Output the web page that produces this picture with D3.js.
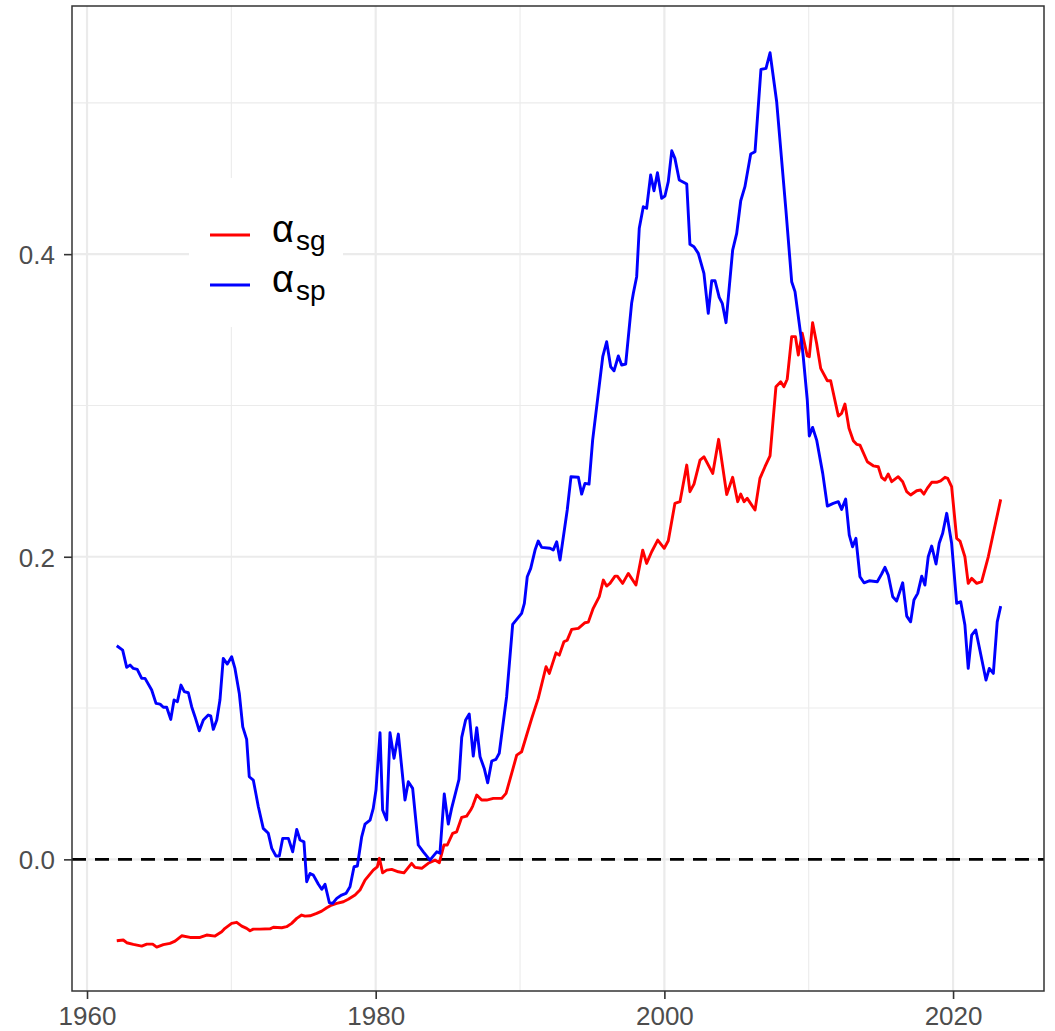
<!DOCTYPE html>
<html lang="en">
<head>
<meta charset="UTF-8">
<title>alpha sg / sp</title>
<script src="https://d3js.org/d3.v7.min.js"></script>
<style>
  body { margin: 0; background: white; }
  svg { display: block; font-family: "Liberation Sans", Arial, sans-serif; }
</style>
</head>
<body>
<svg width="1055" height="1031"></svg>
<script>
// alpha_sg (red)
const sgSeries = [[1962.06,-0.0538],[1962.51,-0.0533],[1962.75,-0.0551],[1963.21,-0.0562],[1963.79,-0.0573],[1964.14,-0.0560],[1964.55,-0.0560],[1964.83,-0.0580],[1965.29,-0.0564],[1965.75,-0.0555],[1966.10,-0.0540],[1966.56,-0.0505],[1967.14,-0.0516],[1967.83,-0.0516],[1968.29,-0.0500],[1968.87,-0.0507],[1969.33,-0.0479],[1969.56,-0.0456],[1970.02,-0.0423],[1970.37,-0.0416],[1970.72,-0.0441],[1971.06,-0.0456],[1971.29,-0.0472],[1971.52,-0.0461],[1971.98,-0.0461],[1972.68,-0.0459],[1972.91,-0.0449],[1973.49,-0.0452],[1973.83,-0.0445],[1974.18,-0.0423],[1974.53,-0.0390],[1974.87,-0.0368],[1975.10,-0.0375],[1975.45,-0.0373],[1975.91,-0.0357],[1976.26,-0.0342],[1976.61,-0.0320],[1976.95,-0.0302],[1977.30,-0.0291],[1977.76,-0.0280],[1978.10,-0.0264],[1978.57,-0.0236],[1978.91,-0.0203],[1979.26,-0.0137],[1979.83,-0.0071],[1980.11,-0.0049],[1980.26,0.0007],[1980.48,-0.0089],[1980.76,-0.0071],[1981.11,-0.0066],[1981.57,-0.0082],[1981.96,-0.0089],[1982.49,-0.0026],[1982.72,-0.0053],[1983.19,-0.0059],[1983.64,-0.0026],[1984.11,-0.0005],[1984.41,-0.0022],[1984.73,0.0095],[1984.96,0.0095],[1985.33,0.0172],[1985.61,0.0182],[1985.96,0.0278],[1986.30,0.0286],[1986.58,0.0326],[1986.72,0.0352],[1987.00,0.0425],[1987.34,0.0392],[1987.69,0.0392],[1988.15,0.0403],[1988.73,0.0403],[1989.03,0.0436],[1989.42,0.0568],[1989.77,0.0689],[1990.11,0.0711],[1990.46,0.0822],[1990.81,0.0932],[1991.26,0.1064],[1991.80,0.1273],[1992.03,0.1229],[1992.49,0.1365],[1992.72,0.1350],[1993.04,0.1438],[1993.27,0.1449],[1993.58,0.1520],[1994.04,0.1527],[1994.50,0.1564],[1994.73,0.1568],[1995.07,0.1659],[1995.49,0.1736],[1995.77,0.1846],[1996.00,0.1806],[1996.23,0.1824],[1996.58,0.1872],[1996.74,0.1872],[1997.11,0.1824],[1997.50,0.1890],[1998.03,0.1813],[1998.50,0.2044],[1998.77,0.1956],[1999.12,0.2033],[1999.54,0.2110],[1999.99,0.2056],[2000.27,0.2106],[2000.73,0.2353],[2001.08,0.2364],[2001.55,0.2606],[2001.77,0.2430],[2002.05,0.2480],[2002.47,0.2639],[2002.74,0.2661],[2003.35,0.2551],[2003.76,0.2776],[2004.32,0.2412],[2004.73,0.2525],[2005.08,0.2364],[2005.29,0.2414],[2005.52,0.2364],[2005.74,0.2386],[2006.28,0.2309],[2006.62,0.2518],[2006.97,0.2595],[2007.32,0.2666],[2007.73,0.3124],[2008.06,0.3157],[2008.28,0.3124],[2008.51,0.3173],[2008.82,0.3455],[2009.08,0.3455],[2009.28,0.3333],[2009.55,0.3477],[2009.90,0.3327],[2010.04,0.3322],[2010.27,0.3547],[2010.55,0.3410],[2010.83,0.3245],[2011.29,0.3163],[2011.52,0.3163],[2012.05,0.2930],[2012.28,0.2948],[2012.51,0.3009],[2012.79,0.2849],[2013.09,0.2767],[2013.32,0.2743],[2013.55,0.2738],[2014.06,0.2628],[2014.47,0.2601],[2014.82,0.2595],[2015.05,0.2525],[2015.28,0.2507],[2015.51,0.2547],[2015.75,0.2496],[2016.20,0.2529],[2016.51,0.2496],[2016.79,0.2430],[2017.06,0.2408],[2017.48,0.2436],[2017.75,0.2441],[2017.98,0.2414],[2018.21,0.2452],[2018.52,0.2492],[2018.86,0.2492],[2019.14,0.2502],[2019.44,0.2525],[2019.63,0.2518],[2019.90,0.2463],[2020.25,0.2122],[2020.48,0.2104],[2020.82,0.2000],[2021.05,0.1824],[2021.29,0.1857],[2021.64,0.1824],[2021.98,0.1835],[2022.44,0.2000],[2022.79,0.2155],[2023.30,0.2379]];

// alpha_sp (blue)
const spSeries = [[1962.06,0.1412],[1962.47,0.1383],[1962.75,0.1269],[1962.98,0.1284],[1963.21,0.1262],[1963.48,0.1256],[1963.79,0.1196],[1964.02,0.1196],[1964.48,0.1119],[1964.78,0.1031],[1965.06,0.1026],[1965.29,0.1005],[1965.52,0.1005],[1965.80,0.0925],[1966.03,0.1053],[1966.26,0.1042],[1966.51,0.1152],[1966.74,0.1108],[1967.02,0.1101],[1967.25,0.1009],[1967.48,0.0943],[1967.78,0.0850],[1968.06,0.0921],[1968.40,0.0954],[1968.57,0.0949],[1968.75,0.0859],[1968.99,0.0921],[1969.21,0.1053],[1969.44,0.1328],[1969.72,0.1291],[1970.02,0.1339],[1970.25,0.1262],[1970.55,0.1097],[1970.79,0.0876],[1971.06,0.0793],[1971.24,0.0546],[1971.52,0.0524],[1971.87,0.0348],[1972.21,0.0205],[1972.56,0.0172],[1972.80,0.0073],[1973.09,0.0022],[1973.32,0.0022],[1973.56,0.0139],[1973.95,0.0139],[1974.25,0.0050],[1974.53,0.0198],[1974.76,0.0128],[1975.03,0.0116],[1975.22,-0.0148],[1975.45,-0.0093],[1975.68,-0.0104],[1976.02,-0.0163],[1976.26,-0.0198],[1976.49,-0.0165],[1976.79,-0.0287],[1977.02,-0.0291],[1977.30,-0.0258],[1977.64,-0.0236],[1977.94,-0.0225],[1978.22,-0.0181],[1978.50,-0.0049],[1978.73,-0.0044],[1979.03,0.0149],[1979.26,0.0233],[1979.61,0.0260],[1979.83,0.0337],[1980.02,0.0458],[1980.30,0.0837],[1980.48,0.0326],[1980.76,0.0260],[1980.99,0.0837],[1981.27,0.0668],[1981.57,0.0828],[1982.03,0.0392],[1982.26,0.0513],[1982.56,0.0469],[1982.95,0.0095],[1983.30,0.0050],[1983.76,-0.0005],[1984.23,0.0050],[1984.45,0.0040],[1984.75,0.0432],[1985.03,0.0233],[1985.26,0.0337],[1985.77,0.0529],[1985.96,0.0806],[1986.23,0.0921],[1986.48,0.0960],[1986.76,0.0683],[1987.00,0.0870],[1987.23,0.0678],[1987.52,0.0601],[1987.76,0.0506],[1988.04,0.0650],[1988.33,0.0661],[1988.56,0.0701],[1989.07,0.1075],[1989.49,0.1553],[1989.77,0.1586],[1990.11,0.1626],[1990.30,0.1692],[1990.50,0.1868],[1990.74,0.1923],[1991.04,0.2044],[1991.26,0.2104],[1991.50,0.2062],[1992.08,0.2056],[1992.30,0.2044],[1992.54,0.2099],[1992.77,0.1978],[1993.27,0.2309],[1993.53,0.2529],[1994.04,0.2525],[1994.27,0.2414],[1994.50,0.2485],[1994.78,0.2480],[1995.03,0.2771],[1995.35,0.3024],[1995.73,0.3322],[1996.00,0.3421],[1996.28,0.3256],[1996.51,0.3229],[1996.81,0.3327],[1997.04,0.3267],[1997.32,0.3274],[1997.73,0.3675],[1997.85,0.3741],[1998.08,0.3851],[1998.26,0.4171],[1998.54,0.4313],[1998.77,0.4303],[1999.05,0.4523],[1999.28,0.4419],[1999.52,0.4538],[1999.81,0.4369],[2000.04,0.4384],[2000.27,0.4479],[2000.51,0.4683],[2000.73,0.4633],[2001.03,0.4490],[2001.55,0.4463],[2001.77,0.4065],[2002.05,0.4049],[2002.35,0.4005],[2002.74,0.3873],[2003.04,0.3609],[2003.28,0.3824],[2003.51,0.3824],[2003.80,0.3714],[2004.01,0.3675],[2004.27,0.3547],[2004.73,0.4027],[2005.01,0.4137],[2005.29,0.4353],[2005.58,0.4446],[2005.98,0.4662],[2006.28,0.4677],[2006.69,0.5221],[2007.04,0.5228],[2007.32,0.5331],[2007.78,0.5007],[2008.42,0.4291],[2008.82,0.3818],[2009.05,0.3752],[2009.51,0.3421],[2009.62,0.3322],[2009.90,0.3036],[2010.04,0.2798],[2010.27,0.2855],[2010.55,0.2771],[2010.97,0.2551],[2011.29,0.2335],[2011.70,0.2353],[2012.05,0.2364],[2012.28,0.2313],[2012.56,0.2381],[2012.81,0.2143],[2013.04,0.2066],[2013.27,0.2122],[2013.55,0.1868],[2013.83,0.1828],[2014.19,0.1841],[2014.75,0.1835],[2015.05,0.1886],[2015.28,0.1930],[2015.51,0.1879],[2015.82,0.1736],[2016.09,0.1707],[2016.51,0.1828],[2016.79,0.1608],[2017.06,0.1570],[2017.29,0.1714],[2017.55,0.1758],[2017.83,0.1872],[2018.05,0.1813],[2018.28,0.2000],[2018.52,0.2071],[2018.82,0.1952],[2019.04,0.2089],[2019.28,0.2155],[2019.56,0.2287],[2019.90,0.2089],[2020.25,0.1692],[2020.53,0.1703],[2020.82,0.1549],[2021.05,0.1262],[2021.29,0.1482],[2021.57,0.1516],[2021.81,0.1405],[2022.28,0.1185],[2022.51,0.1262],[2022.79,0.1229],[2023.06,0.1570],[2023.30,0.1674]];

const xMajor = [1960, 1980, 2000, 2020];
const xMinor = [1970, 1990, 2010];
const yMajor = [0.0, 0.2, 0.4];
const yMinor = [0.1, 0.3, 0.5];
const seriesNames = [["α", "sg"], ["α", "sp"]];
const seriesColors = ["#FF0000", "#0000FF"];

const svg = d3.select("svg"),
    margin = { top: 6, right: 11, bottom: 40, left: 72 },
    width = +svg.attr("width") - margin.left - margin.right,
    height = +svg.attr("height") - margin.top - margin.bottom;

svg.append("rect").attr("width", 1055).attr("height", 1031).attr("fill", "white");

const g = svg.append("g").attr("transform", `translate(${margin.left},${margin.top})`);

const x = d3.scaleLinear().domain([1958.96, 2026.30]).range([0, width]);
const y = d3.scaleLinear().domain([-0.0870, 0.5640]).range([height, 0]);

// grid
g.selectAll(".gx-minor").data(xMinor).enter().append("line")
    .attr("x1", d => x(d)).attr("x2", d => x(d)).attr("y1", 0).attr("y2", height)
    .attr("stroke", "#EBEBEB").attr("stroke-width", 1.1);
g.selectAll(".gy-minor").data(yMinor).enter().append("line")
    .attr("y1", d => y(d)).attr("y2", d => y(d)).attr("x1", 0).attr("x2", width)
    .attr("stroke", "#EBEBEB").attr("stroke-width", 1.1);
g.selectAll(".gx-major").data(xMajor).enter().append("line")
    .attr("x1", d => x(d)).attr("x2", d => x(d)).attr("y1", 0).attr("y2", height)
    .attr("stroke", "#EBEBEB").attr("stroke-width", 2.2);
g.selectAll(".gy-major").data(yMajor).enter().append("line")
    .attr("y1", d => y(d)).attr("y2", d => y(d)).attr("x1", 0).attr("x2", width)
    .attr("stroke", "#EBEBEB").attr("stroke-width", 2.2);

// zero line
g.append("line")
    .attr("x1", 0).attr("x2", width).attr("y1", y(0)).attr("y2", y(0))
    .attr("stroke", "black").attr("stroke-width", 2.7)
    .attr("stroke-dasharray", "14,9");

// series
const line = d3.line().x(d => x(d[0])).y(d => y(d[1]));
[sgSeries, spSeries].forEach((s, i) => {
    g.append("path").datum(s)
        .attr("fill", "none")
        .attr("stroke", seriesColors[i])
        .attr("stroke-width", 2.9)
        .attr("stroke-linejoin", "round")
        .attr("d", line);
});

// panel border
g.append("rect").attr("width", width).attr("height", height)
    .attr("fill", "none").attr("stroke", "#333333").attr("stroke-width", 1.5);

// axes
const xAxis = g.append("g")
    .attr("transform", `translate(0,${height})`)
    .call(d3.axisBottom(x).tickValues(xMajor).tickSize(8).tickFormat(d3.format("d")));
xAxis.select(".domain").remove();
xAxis.selectAll("line").attr("stroke", "#333333").attr("stroke-width", 1.6);
xAxis.selectAll("text").attr("y", 34).attr("dy", null)
    .attr("fill", "#4D4D4D")
    .style("font-size", "26px")
    .style("font-family", "'Liberation Sans', Arial, sans-serif");

const yAxis = g.append("g")
    .call(d3.axisLeft(y).tickValues(yMajor).tickSize(8).tickPadding(9).tickFormat(d3.format(".1f")));
yAxis.select(".domain").remove();
yAxis.selectAll("line").attr("stroke", "#333333").attr("stroke-width", 1.6);
yAxis.selectAll("text").attr("dy", "0.36em")
    .attr("fill", "#4D4D4D")
    .style("font-size", "26px")
    .style("font-family", "'Liberation Sans', Arial, sans-serif");

// legend
const legend = svg.append("g").attr("transform", "translate(189,178)");
legend.append("rect").attr("width", 154).attr("height", 149).attr("fill", "white");
seriesNames.forEach((n, i) => {
    const row = legend.append("g").attr("transform", `translate(0,${57 + i * 50})`);
    row.append("line").attr("x1", 21).attr("x2", 61).attr("y1", 0).attr("y2", 0)
        .attr("stroke", seriesColors[i]).attr("stroke-width", 2.9);
    const t = row.append("text").attr("x", 83).attr("y", 7).attr("fill", "black");
    t.append("tspan").style("font-size", "38px").text(n[0]);
    t.append("tspan").attr("dy", 8).attr("dx", 2).style("font-size", "28px").text(n[1]);
});
</script>
</body>
</html>
